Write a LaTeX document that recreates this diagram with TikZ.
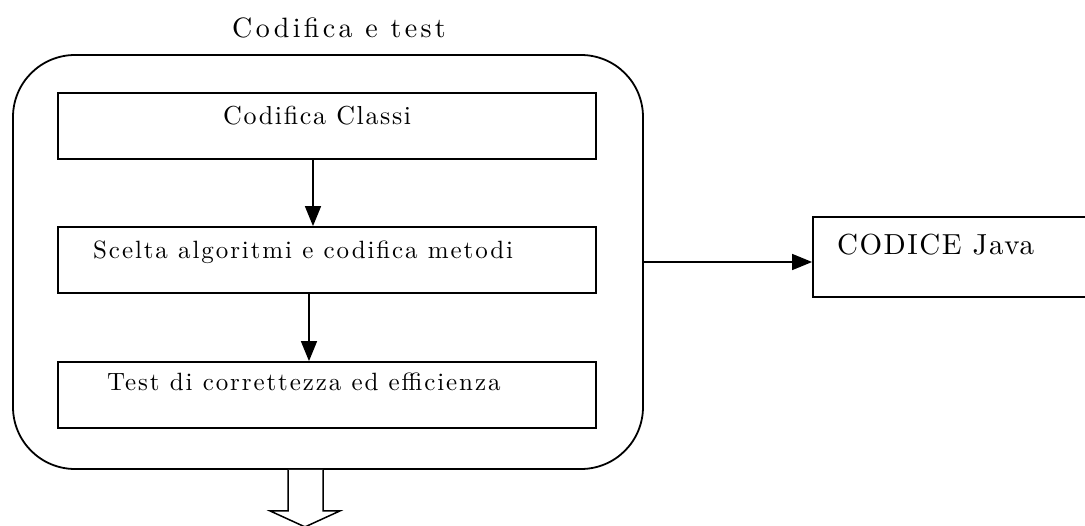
\documentclass[tikz,border=0pt]{standalone}
\usepackage{fontspec}
\usetikzlibrary{arrows.meta}

% letter-spaced cuts of Latin Modern Roman for the labels
\newfontfamily\spacedtitle{lmroman10-regular.otf}[LetterSpace=12]
\newfontfamily\spacedsteps{lmroman10-regular.otf}[LetterSpace=7.6]
\newfontfamily\spacedfirst{lmroman10-regular.otf}[LetterSpace=6.2]
\newfontfamily\spacedout{lmroman10-regular.otf}[LetterSpace=5.2]

\begin{document}
\begin{tikzpicture}[x=1pt, y=-1pt,
  frame/.style={draw=black, line width=1.8pt, rounded corners=62pt,
    minimum width=630pt, minimum height=414pt, inner sep=0pt},
  stepbox/.style={draw=black, line width=1.8pt, minimum width=538pt,
    minimum height=66pt, inner sep=0pt},
  outbox/.style={draw=black, line width=1.8pt, minimum width=300pt,
    minimum height=80pt, inner sep=0pt},
  txt/.style={anchor=base west, inner sep=0pt},
  arr/.style={line width=1.6pt, -{Triangle[length=20pt, width=16pt]}},
  hollow/.style={draw=black, line width=1.5pt, fill=white, line join=miter}]

  \useasboundingbox (0,0) rectangle (1085,526);
  \clip (0,0) rectangle (1085,526);

  % group frame with its caption
  \node[frame] (outer) at (328,262) {};
  \node[txt, font=\spacedtitle\fontsize{28}{30}\selectfont]
    (title) at (232,38) {Codifica e test};

  % the three coding steps
  \node[stepbox] (box1) at (327,126) {};
  \node[stepbox] (box2) at (327,260) {};
  \node[stepbox] (box3) at (327,395) {};

  \node[txt, font=\spacedfirst\fontsize{26}{28}\selectfont]
    (t1) at (223,125) {Codifica Classi};
  \node[txt, font=\spacedsteps\fontsize{25}{27}\selectfont]
    (t2) at (93,259) {Scelta algoritmi e codifica metodi};
  \node[txt, font=\spacedsteps\fontsize{25}{27}\selectfont]
    (t3) at (107,391) {Test di correttezza ed efficienza};

  \draw[arr] ([xshift=-14pt]box1.south) -- ([xshift=-14pt]box2.north);
  \draw[arr] ([xshift=-18pt]box2.south) -- ([xshift=-18pt]box3.north);

  % product of the phase
  \node[outbox] (java) at (963,257) {};
  \node[txt, font=\spacedout\fontsize{29}{31}\selectfont] (jt) at (837,255) {CODICE Java};
  \draw[arr] (outer.east) -- (outer.east -| java.west);

  % hollow arrow leading out of the phase
  \coordinate (ha) at ([xshift=-23pt]outer.south);
  \draw[hollow] (ha) ++(-17,0) -- ++(0,41) -- ++(-18,0) -- ++(35,16)
    -- ++(35,-16) -- ++(-17,0) -- ++(0,-41);
\end{tikzpicture}
\end{document}
